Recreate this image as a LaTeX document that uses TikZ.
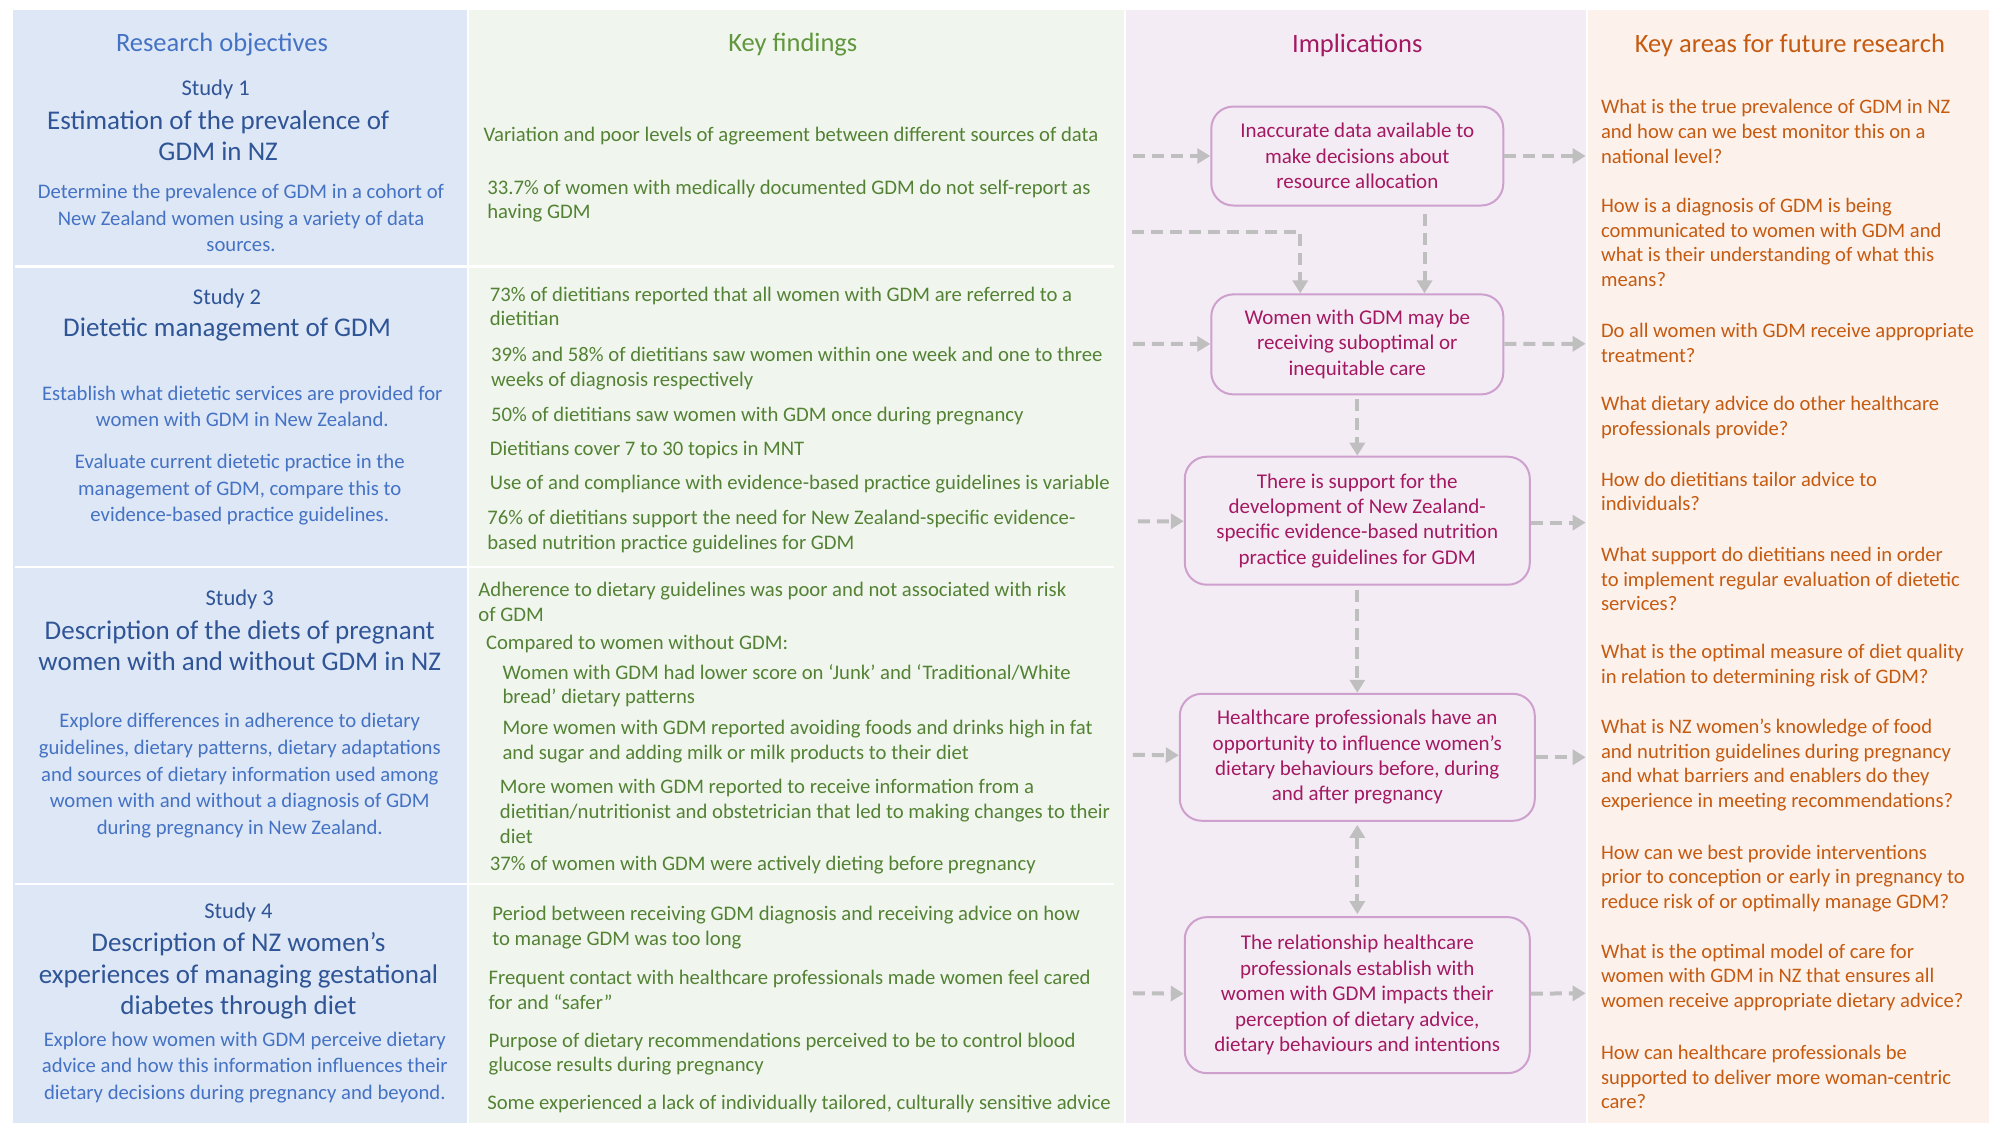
\documentclass[tikz,border=0pt]{standalone}
\usepackage{fontspec}
\setmainfont{Carlito}
\usetikzlibrary{arrows.meta}

\definecolor{objbg}{RGB}{222,231,245}
\definecolor{findbg}{RGB}{240,246,237}
\definecolor{implbg}{RGB}{244,236,244}
\definecolor{askbg}{RGB}{253,242,235}
\definecolor{objblue}{RGB}{68,114,196}
\definecolor{objdark}{RGB}{47,85,151}
\definecolor{findgreen}{RGB}{84,130,53}
\definecolor{findhead}{RGB}{96,150,60}
\definecolor{implpink}{RGB}{163,25,98}
\definecolor{boxline}{RGB}{205,160,205}
\definecolor{askorange}{RGB}{197,90,17}
\definecolor{flowgray}{RGB}{191,191,191}

\tikzset{
  colhead/.style={font=\fontsize{26.5}{31}\selectfont},
  studyno/.style={text=objdark,font=\fontsize{22.5}{27}\selectfont},
  stitle/.style={text=objdark,align=center,font=\fontsize{27}{31.5}\selectfont},
  sdesc/.style={text=objblue,align=center,font=\fontsize{20.7}{26.6}\selectfont},
  finding/.style={text=findgreen,anchor=west,align=left,font=\fontsize{20.7}{24.7}\selectfont},
  question/.style={text=askorange,anchor=west,align=left,font=\fontsize{20.6}{24.7}\selectfont},
  implbox/.style={draw=boxline,line width=2pt,rounded corners=22pt,text=implpink,
                  align=center,font=\fontsize{21}{25.4}\selectfont},
  flow/.style={draw=flowgray,line width=4pt,dash pattern=on 12pt off 7pt,
               -{Triangle[length=13pt,width=15pt]}},
}

\begin{document}
\begin{tikzpicture}[x=1.2685pt,y=-1.2685pt,every node/.style={inner sep=0pt}]
\useasboundingbox[fill=white] (0,0) rectangle (1568,885);
% column backgrounds
\fill[objbg]  (10,8)   rectangle (368,885);
\fill[findbg] (370,8)  rectangle (886,885);
\fill[implbg] (888,8)  rectangle (1250,885);
\fill[askbg]  (1252,8) rectangle (1568,885);
\foreach \y in {210,447,697}
  \draw[white,line width=2.5pt] (12,\y) -- (878,\y);

% headings
\node (hobj)  [colhead,text=objblue]   at (175,35.5)  {Research objectives};
\node (hfind) [colhead,text=findhead]  at (625,35.5)  {Key findings};
\node (himpl) [colhead,text=implpink]  at (1070,35.5) {Implications};
\node (hask)  [colhead,text=askorange] at (1411,35.5) {Key areas for future research};

% research objectives
\node (s1) [studyno] at (170,70.5)  {Study 1};
\node (t1) [stitle]  at (172,107)   {Estimation of the prevalence of\\GDM in NZ};
\node (d1) [sdesc]   at (190,172)   {Determine the prevalence of GDM in a cohort of\\New Zealand women using a variety of data\\sources.};

\node (s2)  [studyno] at (179,235.5) {Study 2};
\node (t2)  [stitle]  at (179,259.5) {Dietetic management of GDM};
\node (d2a) [sdesc]   at (191,320.5) {Establish what dietetic services are provided for\\women with GDM in New Zealand.};
\node (d2b) [sdesc]   at (189,386)   {Evaluate current dietetic practice in the\\management of GDM, compare this to\\evidence-based practice guidelines.};

\node (s3) [studyno] at (189,472.5) {Study 3};
\node (t3) [stitle]  at (189,509)   {Description of the diets of pregnant\\women with and without GDM in NZ};
\node (d3) [sdesc]   at (189,611.5) {Explore differences in adherence to dietary\\guidelines, dietary patterns, dietary adaptations\\and sources of dietary information used among\\women with and without a diagnosis of GDM\\during pregnancy in New Zealand.};

\node (s4) [studyno] at (188,719.5) {Study 4};
\node (t4) [stitle]  at (188,769.5) {Description of NZ women’s\\experiences of managing gestational\\diabetes through diet};
\node (d4) [sdesc]   at (193,841.5) {Explore how women with GDM perceive dietary\\advice and how this information influences their\\dietary decisions during pregnancy and beyond.};

% key findings
\node (f1)  [finding] at (381,107)   {Variation and poor levels of agreement between different sources of data};
\node (f2)  [finding] at (384,158.5) {33.7\% of women with medically documented GDM do not self-report as\\having GDM};
\node (f3)  [finding] at (386,241.5) {73\% of dietitians reported that all women with GDM are referred to a\\dietitian};
\node (f4)  [finding] at (387,290.5) {39\% and 58\% of dietitians saw women within one week and one to three\\weeks of diagnosis respectively};
\node (f5)  [finding] at (387,328)   {50\% of dietitians saw women with GDM once during pregnancy};
\node (f6)  [finding] at (386,355)   {Dietitians cover 7 to 30 topics in MNT};
\node (f7)  [finding] at (386,382)   {Use of and compliance with evidence-based practice guidelines is variable};
\node (f8)  [finding] at (384,419)   {76\% of dietitians support the need for New Zealand-specific evidence-\\based nutrition practice guidelines for GDM};
\node (f9)  [finding] at (377,474.5) {Adherence to dietary guidelines was poor and not associated with risk\\of GDM};
\node (f10) [finding] at (383,508)   {Compared to women without GDM:};
\node (f11) [finding] at (396,540.5) {Women with GDM had lower score on ‘Junk’ and ‘Traditional/White\\bread’ dietary patterns};
\node (f12) [finding] at (396,584.5) {More women with GDM reported avoiding foods and drinks high in fat\\and sugar and adding milk or milk products to their diet};
\node (f13) [finding] at (394,639.5) {More women with GDM reported to receive information from a\\dietitian/nutritionist and obstetrician that led to making changes to their\\diet};
\node (f14) [finding] at (386,682)   {37\% of women with GDM were actively dieting before pregnancy};
\node (f15) [finding] at (388,731)   {Period between receiving GDM diagnosis and receiving advice on how\\to manage GDM was too long};
\node (f16) [finding] at (385,780.5) {Frequent contact with healthcare professionals made women feel cared\\for and “safer”};
\node (f17) [finding] at (385,831)   {Purpose of dietary recommendations perceived to be to control blood\\glucose results during pregnancy};
\node (f18) [finding] at (384,870)   {Some experienced a lack of individually tailored, culturally sensitive advice};

% implications
\node (b1) [implbox,minimum width=292pt,minimum height=99pt]  at (1070,123)   {Inaccurate data available to\\make decisions about\\resource allocation};
\node (b2) [implbox,minimum width=292pt,minimum height=100pt] at (1070,271.5) {Women with GDM may be\\receiving suboptimal or\\inequitable care};
\node (b3) [implbox,minimum width=345pt,minimum height=128pt] at (1070,410.5) {There is support for the\\development of New Zealand-\\specific evidence-based nutrition\\practice guidelines for GDM};
\node (b4) [implbox,minimum width=355pt,minimum height=127pt] at (1070,597)   {Healthcare professionals have an\\opportunity to influence women’s\\dietary behaviours before, during\\and after pregnancy};
\node (b5) [implbox,minimum width=345pt,minimum height=156pt] at (1070,784.5) {The relationship healthcare\\professionals establish with\\women with GDM impacts their\\perception of dietary advice,\\dietary behaviours and intentions};

% key areas for future research
\node (q1)  [question] at (1262,103.5) {What is the true prevalence of GDM in NZ\\and how can we best monitor this on a\\national level?};
\node (q2)  [question] at (1262,191)   {How is a diagnosis of GDM is being\\communicated to women with GDM and\\what is their understanding of what this\\means?};
\node (q3)  [question] at (1262,270.5) {Do all women with GDM receive appropriate\\treatment?};
\node (q4)  [question] at (1262,329)   {What dietary advice do other healthcare\\professionals provide?};
\node (q5)  [question] at (1262,387.5) {How do dietitians tailor advice to\\individuals?};
\node (q6)  [question] at (1262,456.5) {What support do dietitians need in order\\to implement regular evaluation of dietetic\\services?};
\node (q7)  [question] at (1262,525)   {What is the optimal measure of diet quality\\in relation to determining risk of GDM?};
\node (q8)  [question] at (1262,603)   {What is NZ women’s knowledge of food\\and nutrition guidelines during pregnancy\\and what barriers and enablers do they\\experience in meeting recommendations?};
\node (q9)  [question] at (1262,692.5) {How can we best provide interventions\\prior to conception or early in pregnancy to\\reduce risk of or optimally manage GDM?};
\node (q10) [question] at (1262,770.5) {What is the optimal model of care for\\women with GDM in NZ that ensures all\\women receive appropriate dietary advice?};
\node (q11) [question] at (1262,849)   {How can healthcare professionals be\\supported to deliver more woman-centric\\care?};

% connector ends
\coordinate (in1) at (893,123);  \coordinate (out1) at (1250,123);
\coordinate (in2) at (893,271);  \coordinate (out2) at (1250,271);
\coordinate (in3) at (897,411);  \coordinate (out3) at (1250,412);
\coordinate (in4) at (893,595);  \coordinate (out4) at (1250,597);
\coordinate (in5) at (893,783);  \coordinate (out5) at (1250,783);
\coordinate (elb0) at (892,183); \coordinate (elb1) at (1025,183);
\coordinate (side) at (1123,0);

\draw[flow] (in1) -- (b1);  \draw[flow] (b1) -- (out1);
\draw[flow] (in2) -- (b2);  \draw[flow] (b2) -- (out2);
\draw[flow] (in3) -- (b3);  \draw[flow] (b3.east |- out3) -- (out3);
\draw[flow] (in4) -- (b4);  \draw[flow] (b4.east |- out4) -- (out4);
\draw[flow] (in5) -- (b5);  \draw[flow] (b5) -- (out5);
\draw[flow] (elb0) -- (elb1) -- (b2.north -| elb1);
\draw[flow,shorten <=7pt] (b1.south -| side) -- (b2.north -| side);
\draw[flow,shorten <=4pt] (b2) -- (b3);
\draw[flow,shorten <=4pt] (b3) -- (b4);
\draw[flow,{Triangle[length=13pt,width=15pt]}-{Triangle[length=13pt,width=15pt]},shorten <=3pt,shorten >=2pt] (b4) -- (b5);
\end{tikzpicture}
\end{document}
